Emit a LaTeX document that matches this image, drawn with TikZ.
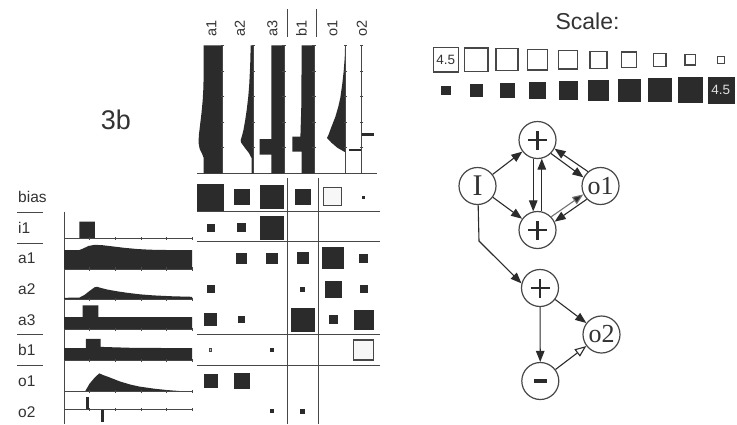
\documentclass[tikz,border=0pt]{standalone}
\usepackage{fontspec}
\setmainfont{Liberation Sans}
\newfontfamily\serifnode{Liberation Serif}
\usetikzlibrary{arrows.meta}

\definecolor{ink}{HTML}{2B2B2B}
\definecolor{rule}{HTML}{474747}
\definecolor{txt}{HTML}{333333}
\definecolor{paleface}{HTML}{F7F7F7}

% activity profiles in local (time, value) coordinates
\newcommand\profIone{\fill[ink] (0,0) -- (0.12,0) -- (0.12,16.6) -- (0.242,16.6) -- (0.242,0) -- cycle;}
\newcommand\profAone{\fill[ink] (0,0) -- (0,19) -- (0.12,19) -- (0.15,20.5) -- (0.19,23) -- (0.24,24.2) -- (0.3,23.8) -- (0.38,22.6) -- (0.47,21.2) -- (0.57,20) -- (0.67,19.3) -- (0.8,19) -- (1,19) -- (1,0) -- cycle;}
\newcommand\profAtwo{\fill[ink] (0,0) -- (0,1.6) -- (0.12,1.8) -- (0.16,4.5) -- (0.2,8.5) -- (0.24,12.2) -- (0.26,12.6) -- (0.29,11.4) -- (0.34,9.8) -- (0.42,8) -- (0.5,6.5) -- (0.6,5) -- (0.7,4) -- (0.85,3.1) -- (1,2.6) -- (1,0) -- cycle;}
\newcommand\profAthree{\fill[ink] (0,0) -- (0,12.6) -- (0.146,12.6) -- (0.146,24.3) -- (0.268,24.3) -- (0.268,12.6) -- (1,12.6) -- (1,0) -- cycle;}
\newcommand\profBone{\fill[ink] (0,0) -- (0,12.4) -- (0.17,12.4) -- (0.17,21.7) -- (0.286,21.7) -- (0.286,13.6) -- (0.55,12.6) -- (1,12.4) -- (1,0) -- cycle;}
\newcommand\profOone{\fill[ink] (0.164,0) -- (0.2,8) -- (0.24,14) -- (0.276,18.3) -- (0.3,16.8) -- (0.35,14.5) -- (0.44,10) -- (0.52,7) -- (0.59,5) -- (0.7,3) -- (0.8,1.6) -- (0.9,0.6) -- (1,0.2) -- (1,0) -- cycle;}
\newcommand\profOtwo{\fill[ink] (0.172,0) rectangle (0.193,12.6); \fill[ink] (0.289,0) rectangle (0.313,-12.4);}
\newcommand\timeaxis{\draw[rule,line width=0.7pt] (0,0) -- (1,0);
  \foreach \t in {0.2,0.4,0.6,0.8,1} \draw[rule,line width=0.5pt] (\t,-1.6) -- (\t,1.6);}

\begin{document}
\begin{tikzpicture}[x=1pt,y=-1pt,
  every node/.style={text=txt},
  lbl/.style={font=\fontsize{15.5}{16}\selectfont, anchor=base west, inner sep=0pt},
  collbl/.style={font=\fontsize{14.5}{15}\selectfont, rotate=90, inner sep=0pt},
  possq/.style={rectangle, fill=ink, draw=ink, line width=0.4pt, inner sep=0pt},
  negsq/.style={rectangle, fill=paleface, draw=rule, line width=1.3pt, inner sep=0pt},
  gnode/.style={circle, draw=rule, line width=1.2pt, fill=white, minimum size=37pt, inner sep=0pt},
  plusnode/.style={gnode, path picture={\draw[ink, line width=2.4pt]
      (path picture bounding box.center) ++(-9.5pt,0pt) -- ++(19pt,0pt)
      (path picture bounding box.center) ++(0pt,-9.5pt) -- ++(0pt,19pt);}},
  minusnode/.style={gnode, path picture={\draw[ink, line width=3.8pt]
      (path picture bounding box.center) ++(-6.5pt,0pt) -- ++(13pt,0pt);}},
  txtnode/.style={gnode, font=\serifnode\fontsize{26}{27}\selectfont},
  arc/.style={draw=ink, line width=1.1pt, -{Triangle[length=11pt,width=8.5pt]}},
  faintarc/.style={arc, draw=black!55, -{Triangle[length=11pt,width=8.5pt,fill=ink]}},
  inhib/.style={draw=ink, line width=1.1pt, -{Triangle[open,length=11.5pt,width=9pt,fill=white]}}
]
\useasboundingbox (0,0) rectangle (737,424);
\fill[white] (0,0) rectangle (737,424);

% ---- title
\node[font=\fontsize{27}{28}\selectfont] (title) at (116,120) {3b};

% ---- row labels and separators
\foreach \nm/\yy in {bias/196.7, i1/227.3, a1/258, a2/288.7, a3/319.3, b1/350, o1/380.7, o2/411.3}
  \node[lbl] (row-\nm) at (18,\yy+5.8) {\nm};
\foreach \yy in {212.5,243,334,365}
  \draw[rule,line width=0.9pt] (17,\yy) -- (43,\yy);

% ---- row time courses
\draw[rule,line width=0.8pt] (64,211.7) -- (64,424);
\foreach \yy/\prof in {238.3/\profIone, 269/\profAone, 299.4/\profAtwo, 329.6/\profAthree, 360.5/\profBone, 391.6/\profOone, 409.3/\profOtwo} {
  \begin{scope}[xshift=64pt, yshift=-\yy pt, x={(128pt,0pt)}, y={(0pt,1pt)}]
    \prof
    \timeaxis
  \end{scope}
}

% ---- column labels
\foreach \nm/\xx in {a1/211.5, a2/240, a3/272.5, b1/301.5, o1/332.5, o2/362}
  \node[collbl] (col-\nm) at (\xx,28) {\nm};
\draw[rule,line width=0.9pt] (287,9) -- (287,37);
\draw[rule,line width=0.9pt] (316.5,9) -- (316.5,37);

% ---- column time courses
\draw[rule,line width=0.8pt] (197,173.3) -- (377,173.3);
\foreach \xx/\prof in {222.7/\profAone, 253.3/\profAtwo, 284/\profAthree, 314/\profBone, 345.3/\profOone, 361.7/\profOtwo} {
  \begin{scope}[xshift=\xx pt, yshift=-173.3pt, x={(0pt,128pt)}, y={(-1pt,0pt)}]
    \prof
    \timeaxis
  \end{scope}
}

% ---- weight matrix rules
\foreach \yy in {211.7,241.7,334,365}
  \draw[rule,line width=0.9pt] (197,\yy) -- (380,\yy);
\draw[rule,line width=0.9pt] (287.3,178) -- (287.3,424);
\draw[rule,line width=0.9pt] (318.3,178) -- (318.3,424);

% ---- positive weights (columns a1 a2 a3 b1 o1 o2)
\foreach \nm/\xx/\yy/\s in {
  bias-a1/210.3/196.7/26, bias-a2/241.3/196.7/15, bias-a3/271.7/196.7/23, bias-b1/302.5/196.7/15, bias-o2/363.3/196.7/2,
  i1-a1/210.3/227.3/7, i1-a2/241.3/227.3/8, i1-a3/271.7/227.3/23,
  a1-a2/241.3/258/10, a1-a3/271.7/258/10.5, a1-b1/302.5/258/11, a1-o1/332.7/258/21, a1-o2/363.3/258/8.5,
  a2-a1/210.3/288.7/7, a2-b1/302.5/288.7/4, a2-o1/332.7/288.7/16, a2-o2/363.3/288.7/7,
  a3-a1/210.3/319.3/12, a3-a2/241.3/319.3/6, a3-b1/302.5/319.3/23, a3-o1/332.7/319.3/8, a3-o2/363.3/319.3/19,
  b1-a3/271.7/350/3,
  o1-a1/210.3/380.7/13, o1-a2/241.3/380.7/15,
  o2-a3/271.7/411/3, o2-b1/302.5/411/4}
  \node[possq, minimum size=\s pt] (w-\nm) at (\xx,\yy) {};

% ---- negative weights
\node[negsq, minimum size=18pt] (w-bias-o1) at (332.7,196.7) {};
\node[negsq, minimum size=20pt] (w-b1-o2) at (363.3,350) {};
\node[negsq, line width=0.8pt, fill=black!25, minimum size=2.6pt] (w-b1-a1) at (210.3,350) {};

% ---- scale
\node[font=\fontsize{23}{24}\selectfont] (scale) at (587.5,21) {Scale:};
\foreach \i in {1,...,10} {
  \pgfmathsetmacro\xx{445.8+30.55*(\i-1)}
  \pgfmathsetmacro\sa{26*sqrt((11-\i)/10)-1.3}
  \pgfmathsetmacro\sb{26*sqrt(\i/10)}
  \node[negsq, line width=1.3pt, fill=white, minimum size=\sa pt] (sn\i) at (\xx,59.7) {};
  \node[possq, minimum size=\sb pt] (sp\i) at (\xx,90) {};
}
\node[font=\fontsize{13.5}{14}\selectfont, inner sep=0pt] (sn-val) at (sn1) {4.5};
\node[font=\fontsize{13.5}{14}\selectfont, inner sep=0pt, text=black!12] (sp-val) at (sp10) {4.5};

% ---- network
\node[txtnode, font=\serifnode\fontsize{30}{31}\selectfont] (I) at (477.5,186) {I};
\node[plusnode] (top) at (537.5,140) {};
\node[plusnode] (mid) at (537.5,230) {};
\node[txtnode] (o1) at (600.5,186) {o1};
\node[plusnode] (low) at (540,288) {};
\node[txtnode] (o2) at (601.5,334.5) {o2};
\node[minusnode] (neg) at (540.3,381) {};
\coordinate (bend) at (479,241);

\draw[arc] (I) -- (top);
\draw[arc] (I) -- (mid);
\draw[arc] (top.-103) -- (mid.103);
\draw[arc] (mid.77) -- (top.-77);
\draw[arc] (o1.131) -- (top.-27);
\draw[arc] (top.-45) -- (o1.153);
\draw[faintarc] (mid.44) -- (o1.206);
\draw[arc] (o1.224) -- (mid.26);
\draw[arc] (I.-88) -- (bend) -- (low.166);
\draw[arc] (low) -- (o2);
\draw[arc] (low) -- (neg);
\draw[inhib] (neg) -- (o2);
\end{tikzpicture}
\end{document}
